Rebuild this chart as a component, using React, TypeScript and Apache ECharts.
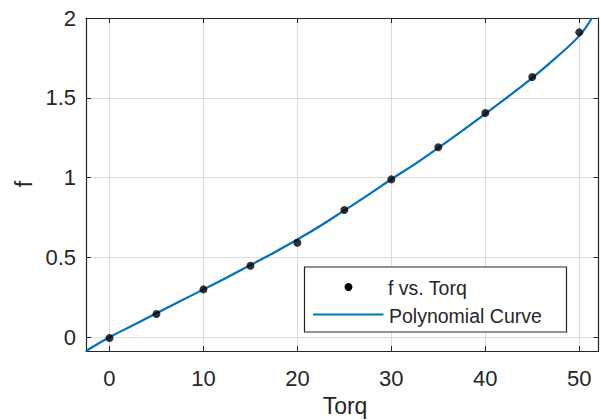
import React, { useEffect, useRef } from "react";
import * as echarts from "echarts";

const torq = [0, 5, 10, 15, 20, 25, 30, 35, 40, 45, 50];
const fValues = [-0.005, 0.146, 0.3, 0.448, 0.592, 0.797, 0.989, 1.19, 1.405, 1.63, 1.91];

const curveX = [-2.5, 0, 2.5, 5, 7.5, 10, 12.5, 15, 17.5, 20, 22.5, 25, 27.5, 30, 32.5, 35, 37.5, 40, 42.5, 45, 47.5, 50, 51.35];
const curveY = [-0.086, 0.0, 0.075, 0.15, 0.225, 0.3, 0.375, 0.452, 0.53, 0.612, 0.7, 0.795, 0.89, 0.99, 1.085, 1.187, 1.292, 1.4, 1.51, 1.625, 1.75, 1.888, 2.0];

const xTicks = [0, 10, 20, 30, 40, 50];
const yTicks = [0, 0.5, 1, 1.5, 2];

const legendLabels = ["f vs. Torq", "Polynomial Curve"];
const xName = "Torq";
const yName = "f";

const AXIS = "#262626";
const GRID = "#dcdcdc";
const BLUE = "#0072BD";
const FONT = "Liberation Sans";

export default function App() {
  const ref = useRef<HTMLDivElement>(null);
  useEffect(() => {
    if (!ref.current) return;
    const chart = echarts.init(ref.current, undefined, { renderer: "svg" });
    const isTick = (v: number, list: number[]) => list.some((t) => Math.abs(t - v) < 1e-6);
    const xAxisBase = {
      type: "value" as const,
      min: -2.5,
      max: 52.05,
      splitNumber: 5,
    };
    const yAxisBase = {
      type: "value" as const,
      min: -0.086,
      max: 2,
      splitNumber: 5,
    };
    chart.setOption({
      animation: false,
      backgroundColor: "#ffffff",
      textStyle: { fontFamily: FONT },
      grid: { left: 86, right: 2.5, top: 18, bottom: 69, containLabel: false },
      xAxis: [
        {
          ...xAxisBase,
          position: "bottom",
          axisLine: { show: true, onZero: false, lineStyle: { color: AXIS, width: 1.2 } },
          axisTick: { show: true, inside: true, length: 5, lineStyle: { color: AXIS } },
          axisLabel: {
            show: true,
            margin: 16,
            fontSize: 22,
            fontFamily: FONT,
            color: AXIS,
            showMinLabel: false,
            showMaxLabel: false,
            formatter: (v: number) => (isTick(v, xTicks) ? String(v) : ""),
          },
          splitLine: { show: true, lineStyle: { color: GRID, width: 1 } },
        },
        {
          ...xAxisBase,
          position: "top",
          axisLine: { show: true, onZero: false, lineStyle: { color: AXIS, width: 1.2 } },
          axisTick: { show: true, inside: true, length: 5, lineStyle: { color: AXIS } },
          axisLabel: { show: false },
          splitLine: { show: false },
        },
      ],
      yAxis: [
        {
          ...yAxisBase,
          position: "left",
          axisLine: { show: true, onZero: false, lineStyle: { color: AXIS, width: 1.2 } },
          axisTick: { show: true, inside: true, length: 5, lineStyle: { color: AXIS } },
          axisLabel: {
            show: true,
            margin: 10,
            fontSize: 22,
            fontFamily: FONT,
            color: AXIS,
            showMinLabel: false,
            formatter: (v: number) => (isTick(v, yTicks) ? String(v) : ""),
          },
          splitLine: { show: true, lineStyle: { color: GRID, width: 1 } },
        },
        {
          ...yAxisBase,
          position: "right",
          axisLine: { show: true, onZero: false, lineStyle: { color: AXIS, width: 1.2 } },
          axisTick: { show: true, inside: true, length: 5, lineStyle: { color: AXIS } },
          axisLabel: { show: false },
          splitLine: { show: false },
        },
      ],
      series: [
        {
          name: legendLabels[1],
          type: "line",
          xAxisIndex: 0,
          yAxisIndex: 0,
          data: curveX.map((x, i) => [x, curveY[i]]),
          smooth: 0.4,
          showSymbol: false,
          clip: true,
          lineStyle: { color: BLUE, width: 2.2 },
          z: 3,
        },
        {
          name: legendLabels[0],
          type: "scatter",
          xAxisIndex: 0,
          yAxisIndex: 0,
          data: torq.map((x, i) => [x, fValues[i]]),
          symbol: "circle",
          symbolSize: 8,
          itemStyle: { color: "#000000" },
          z: 4,
        },
      ],
      graphic: [
        {
          type: "rect",
          z: 100,
          shape: { x: 304.5, y: 267, width: 262, height: 65 },
          style: { fill: "#ffffff", stroke: AXIS, lineWidth: 1.2 },
        },
        {
          type: "circle",
          z: 101,
          shape: { cx: 348.5, cy: 287, r: 4 },
          style: { fill: "#000000" },
        },
        {
          type: "line",
          z: 101,
          shape: { x1: 313, y1: 314.5, x2: 383.5, y2: 314.5 },
          style: { stroke: BLUE, lineWidth: 2 },
        },
        {
          type: "text",
          z: 101,
          x: 388,
          y: 288,
          style: {
            text: legendLabels[0],
            fontSize: 19.5,
            fontFamily: FONT,
            fill: AXIS,
            align: "left",
            verticalAlign: "middle",
          },
        },
        {
          type: "text",
          z: 101,
          x: 389,
          y: 316,
          style: {
            text: legendLabels[1],
            fontSize: 19.5,
            fontFamily: FONT,
            fill: AXIS,
            align: "left",
            verticalAlign: "middle",
          },
        },
        {
          type: "text",
          z: 101,
          x: 345,
          y: 406,
          style: {
            text: xName,
            fontSize: 23,
            fontFamily: FONT,
            fill: AXIS,
            align: "center",
            verticalAlign: "middle",
          },
        },
        {
          type: "text",
          z: 101,
          x: 24,
          y: 184,
          rotation: Math.PI / 2,
          style: {
            text: yName,
            fontSize: 23,
            fontFamily: FONT,
            fill: AXIS,
            align: "center",
            verticalAlign: "middle",
          },
        },
      ],
    });
    return () => chart.dispose();
  }, []);
  return (
    <div
      ref={ref}
      style={{ position: "fixed", left: 0, top: 0, width: 601, height: 420, background: "#fff" }}
    />
  );
}
